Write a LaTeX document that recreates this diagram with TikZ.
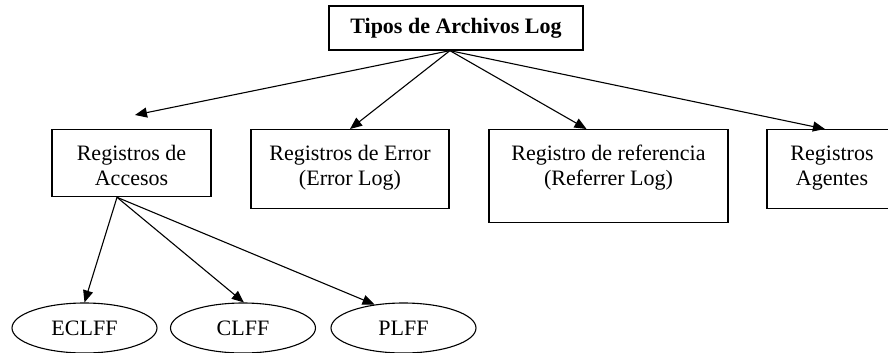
\documentclass[tikz,border=0pt]{standalone}
\usepackage{fontspec}
\setmainfont{Liberation Serif}
\usepackage{tikz}
\usetikzlibrary{arrows.meta}
\tikzset{>={Triangle[length=12,width=10]}}
\usetikzlibrary{shapes.geometric}
% text of a box, kept at its top edge
\newcommand{\boxtxt}[3]{\parbox[c][#2][t]{#1}{\centering\rule{0pt}{31pt}#3}}

\begin{document}
\begin{tikzpicture}[x=1pt,y=-1pt,font=\fontsize{22}{25}\selectfont,
    arrow/.style={->,line width=1.1},
    hdr/.style={draw,line width=1.3,inner sep=0,minimum width=254,minimum height=44,font=\fontsize{22}{25}\selectfont\bfseries},
    reg/.style={draw,line width=1.3,inner sep=0,anchor=north},
    oval/.style={draw,ellipse,line width=1.1,inner sep=0,minimum width=145,minimum height=50}]
    \useasboundingbox (0,0) rectangle (888,353);

    \node[hdr] (top) at (456,28) {Tipos de Archivos Log};

    \node[reg] (acc) at (131.5,129) {\boxtxt{159pt}{67pt}{Registros de\\Accesos}};
    \node[reg] (err) at (350,129) {\boxtxt{198pt}{79pt}{Registros de Error\\(Error Log)}};
    \node[reg] (ref) at (608.5,129) {\boxtxt{239pt}{93pt}{Registro de referencia\\(Referrer Log)}};
    \node[reg] (agt) at (832,129) {\boxtxt{130pt}{79pt}{Registros\\Agentes}};
    \coordinate (accin) at (135,115);

    \node[oval] (eclff) at (84.5,328) {ECLFF};
    \node[oval] (clff) at (243,328) {CLFF};
    \node[oval] (plff) at (403.5,328) {PLFF};

    \draw[arrow] (top.255) -- (accin);
    \draw[arrow] (top.255) -- (err.north);
    \draw[arrow] (top.255) -- (ref.115);
    \draw[arrow] (top.255) -- (agt.100);

    \draw[arrow] (acc.247) -- (eclff.north);
    \draw[arrow] (acc.247) -- (clff.88);
    \draw[arrow] (acc.247) -- (plff.141);

    \end{tikzpicture}
\end{document}
